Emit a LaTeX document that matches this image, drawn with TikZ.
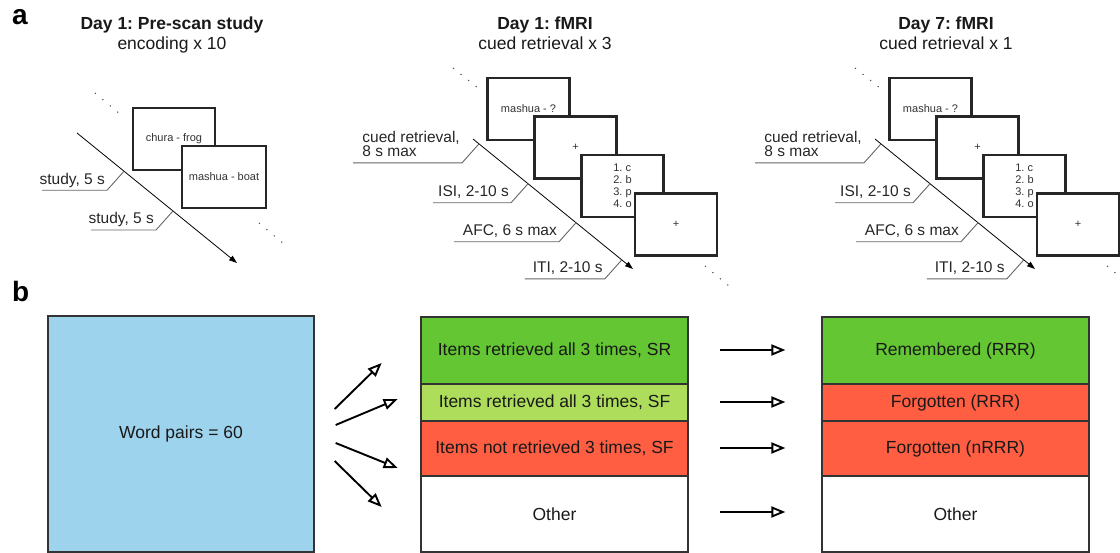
\documentclass[tikz,border=0pt]{standalone}
\usepackage{fontspec}
\setmainfont{Liberation Sans}
\usetikzlibrary{positioning,arrows.meta}

\definecolor{pairblue}{RGB}{157,211,236}
\definecolor{srgreen}{RGB}{99,198,50}
\definecolor{sfgreen}{RGB}{174,221,92}
\definecolor{lostred}{RGB}{255,94,66}
\frenchspacing

\begin{document}
\begin{tikzpicture}[x=1pt,y=-1pt,on grid,
    screen/.style={draw=black!85,line width=2.2pt,fill=white,minimum width=82pt,minimum height=62pt,inner sep=0pt,text=black!80,font=\fontsize{11}{12}\selectfont},
    timeline/.style={line width=0.8pt,-{Triangle[length=8pt,width=5.5pt]}},
    leader/.style={draw=black!60,line width=0.9pt},
    lbl/.style={anchor=base east,inner sep=0pt,align=left,text=black!85,font=\fontsize{15.5}{14.5}\selectfont},
    dots/.style={draw=black!70,line width=1pt,dash pattern=on 1.2pt off 8.5pt},
    title/.style={anchor=base,text=black!90,font=\bfseries\fontsize{17.5}{20}\selectfont},
    sub/.style={anchor=base,text=black!90,font=\fontsize{17.5}{20}\selectfont},
    panel/.style={anchor=base west,inner sep=0pt,font=\bfseries\fontsize{28}{30}\selectfont},
    cell/.style={draw=black!80,line width=1.3pt,minimum width=267pt,inner sep=0pt,text=black!90,font=\fontsize{17.5}{20}\selectfont},
    fan/.style={line width=1.9pt,-{Triangle[open,length=14pt,width=11pt]}}]
    \useasboundingbox (0,0) rectangle (1120,553);

    \node[panel] (p_a) at (12,25) {a};
    \node[panel] (p_b) at (12,302) {b};

    \node[title] (h_1) at (172,30) {Day 1: Pre-scan study};
    \node[sub]   (g_1) at (172,50) {encoding x 10};
    \draw[dots] (95,93) -- (120,114);
    \node[screen] (s_1) at (174,139) {chura - frog};
    \node[screen,minimum width=84pt] (s_2) [below right=38pt and 50pt of s_1] {mashua - boat};
    \draw[dots] (259,223) -- (284,244);
    \draw[timeline] (77,133) -- ++(160,130) coordinate[pos=0.294] (t_1) coordinate[pos=0.6] (t_2);
    \draw[leader] (t_1) -- ++(-17,19) coordinate (e_1) -- ++(-65,0);
    \draw[leader] (t_2) -- ++(-17,19) coordinate (e_2) -- ++(-65,0);
    \node[lbl] (l_1) at ([shift={(-2,-6)}]e_1) {study, 5 s};
    \node[lbl] (l_2) at ([shift={(-2,-6)}]e_2) {study, 5 s};

    \node[title] (h_2) at (545,30) {Day 1: fMRI};
    \node[sub]   (g_2) at (545,50) {cued retrieval x 3};
    \draw[dots] (453,68) -- (478,88);
    \node[screen] (c_1) at (528.5,109) {mashua - ?};
    \node[screen] (c_2) [below right=38.5pt and 47pt of c_1] {+};
    \node[screen,align=left] (c_3) [below right=38.5pt and 47pt of c_2] {1. c\\2. b\\3. p\\4. o};
    \node[screen] (c_4) [below right=38.5pt and 53.5pt of c_3] {+};
    \draw[dots] (705,266) -- (729,286);
    \draw[timeline] (473,139) -- ++(160,130) coordinate[pos=0.0375] (u_1) coordinate[pos=0.344] (u_2)
        coordinate[pos=0.644] (u_3) coordinate[pos=0.93] (u_4);
    \draw[leader] (u_1) -- ++(-17,19) coordinate (f_1) -- ++(-109,0);
    \draw[leader] (u_2) -- ++(-17,19) coordinate (f_2) -- ++(-78,0);
    \draw[leader] (u_3) -- ++(-17,19) coordinate (f_3) -- ++(-105,0);
    \draw[leader] (u_4) -- ++(-17,19) coordinate (f_4) -- ++(-80,0);
    \node[lbl,anchor=south east] (k_1) at ([shift={(-2,-6)}]f_1) {cued retrieval,\\8 s max};
    \node[lbl] (k_2) at ([shift={(-2,-6)}]f_2) {ISI, 2-10 s};
    \node[lbl] (k_3) at ([shift={(-2,-6)}]f_3) {AFC, 6 s max};
    \node[lbl] (k_4) at ([shift={(-2,-6)}]f_4) {ITI, 2-10 s};

    \node[title] (h_3) at (946,30) {Day 7: fMRI};
    \node[sub]   (g_3) at (946,50) {cued retrieval x 1};
    \draw[dots] (855,68) -- (880,88);
    \node[screen] (d_1) at (930.5,109) {mashua - ?};
    \node[screen] (d_2) [below right=38.5pt and 47pt of d_1] {+};
    \node[screen,align=left] (d_3) [below right=38.5pt and 47pt of d_2] {1. c\\2. b\\3. p\\4. o};
    \node[screen] (d_4) [below right=38.5pt and 53.5pt of d_3] {+};
    \draw[dots] (1107,266) -- (1131,286);
    \draw[timeline] (875,139) -- ++(160,130) coordinate[pos=0.0375] (v_1) coordinate[pos=0.344] (v_2)
        coordinate[pos=0.644] (v_3) coordinate[pos=0.93] (v_4);
    \draw[leader] (v_1) -- ++(-17,19) coordinate (j_1) -- ++(-109,0);
    \draw[leader] (v_2) -- ++(-17,19) coordinate (j_2) -- ++(-78,0);
    \draw[leader] (v_3) -- ++(-17,19) coordinate (j_3) -- ++(-105,0);
    \draw[leader] (v_4) -- ++(-17,19) coordinate (j_4) -- ++(-80,0);
    \node[lbl,anchor=south east] (n_1) at ([shift={(-2,-6)}]j_1) {cued retrieval,\\8 s max};
    \node[lbl] (n_2) at ([shift={(-2,-6)}]j_2) {ISI, 2-10 s};
    \node[lbl] (n_3) at ([shift={(-2,-6)}]j_3) {AFC, 6 s max};
    \node[lbl] (n_4) at ([shift={(-2,-6)}]j_4) {ITI, 2-10 s};

    \node[cell,fill=pairblue,minimum width=266pt,minimum height=236pt] (w) at (181,434) {Word pairs = 60};
    \node[cell,fill=srgreen,minimum height=67pt] (m_1) at (554.5,350.5) {Items retrieved all 3 times, SR};
    \node[cell,fill=sfgreen,minimum height=37pt] (m_2) at (554.5,402.5) {Items retrieved all 3 times, SF};
    \node[cell,fill=lostred,minimum height=55pt] (m_3) at (554.5,448.5) {Items not retrieved 3 times, SF};
    \node[cell,fill=white,minimum height=76pt]   (m_4) at (554.5,514) {Other};
    \node[cell,fill=srgreen,minimum height=67pt] (r_1) [right=401pt of m_1] {Remembered (RRR)};
    \node[cell,fill=lostred,minimum height=37pt] (r_2) [right=401pt of m_2] {Forgotten (RRR)};
    \node[cell,fill=lostred,minimum height=55pt] (r_3) [right=401pt of m_3] {Forgotten (nRRR)};
    \node[cell,fill=white,minimum height=76pt]   (r_4) [right=401pt of m_4] {Other};

    \draw[fan] ([shift={(20,-25)}]w.east) -- ++(47,-46);
    \draw[fan] ([shift={(21,-9)}]w.east) -- ++(62,-26);
    \draw[fan] ([shift={(21,9)}]w.east) -- ++(62,25);
    \draw[fan] ([shift={(20,27)}]w.east) -- ++(47,46);
    \draw[fan] ([shift={(31,-0.5)}]m_1.east) -- ([shift={(-36,-0.5)}]r_1.west);
    \draw[fan] ([shift={(31,-0.5)}]m_2.east) -- ([shift={(-36,-0.5)}]r_2.west);
    \draw[fan] ([shift={(31,-0.5)}]m_3.east) -- ([shift={(-36,-0.5)}]r_3.west);
    \draw[fan] ([shift={(31,-2)}]m_4.east) -- ([shift={(-36,-2)}]r_4.west);
\end{tikzpicture}
\end{document}
